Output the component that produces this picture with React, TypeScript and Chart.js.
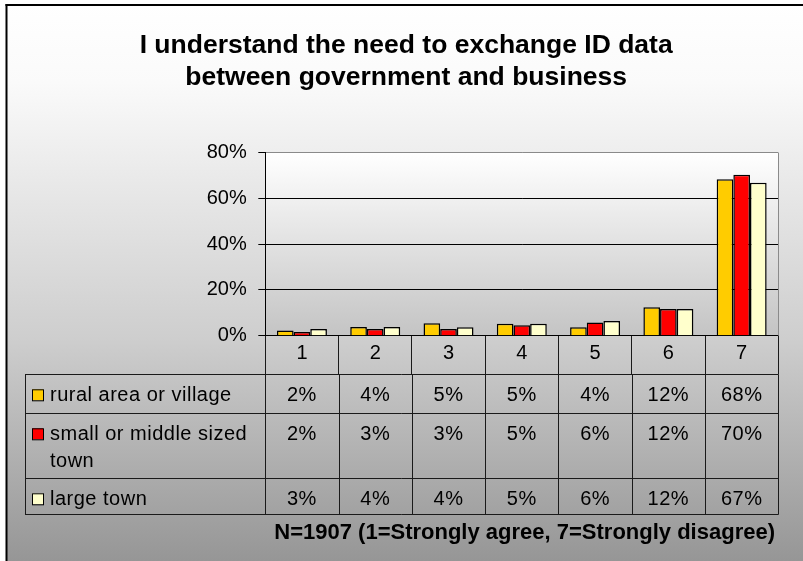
import React, { useEffect, useRef } from "react";
import { Chart, registerables } from "chart.js";

Chart.register(...registerables);

const TITLE = ["I understand the need to exchange ID data", "between government and business"];
const FOOTNOTE = "N=1907 (1=Strongly agree, 7=Strongly disagree)";
const categories = ["1", "2", "3", "4", "5", "6", "7"];
const seriesNames = ["rural area or village", "small or middle sized town", "large town"];
const seriesColors = ["#FFCC00", "#FF0000", "#FFFFCC"];
const rural = [2.3, 3.8, 5.4, 5.2, 3.7, 12.4, 68.4];
const smallTown = [1.6, 2.9, 2.9, 4.6, 5.8, 11.7, 70.4];
const largeTown = [2.9, 3.8, 3.7, 5.2, 6.4, 11.7, 66.9];
const yTicks = [0, 20, 40, 60, 80];

const FONT = "'Liberation Sans', Arial, Helvetica, sans-serif";

const backgroundPlugin = {
  id: "bgPlugin",
  beforeDraw(chart: any) {
    const { ctx, width, height, chartArea } = chart;
    ctx.save();
    ctx.fillStyle = "#ffffff";
    ctx.fillRect(0, 0, width, height);
    const g = ctx.createLinearGradient(0, 4, 0, height);
    g.addColorStop(0, "#ffffff");
    g.addColorStop(0.14, "#fafafa");
    g.addColorStop(0.6, "#cecece");
    g.addColorStop(1, "#969696");
    ctx.fillStyle = g;
    ctx.fillRect(6, 4, width - 6, height - 4);
    ctx.fillStyle = "#000";
    ctx.fillRect(5.5, 4, 2, height - 4);
    ctx.fillRect(5.5, 4, width - 5.5, 2);
    const pg = ctx.createLinearGradient(0, chartArea.top, 0, chartArea.bottom);
    pg.addColorStop(0, "#ffffff");
    pg.addColorStop(1, "#c4c4c4");
    ctx.fillStyle = pg;
    ctx.fillRect(chartArea.left, chartArea.top, chartArea.right - chartArea.left, chartArea.bottom - chartArea.top);
    ctx.restore();
  },
  afterDatasetsDraw(chart: any) {
    const { ctx, chartArea } = chart;
    ctx.save();
    ctx.strokeStyle = "#8a8a8a";
    ctx.lineWidth = 1;
    const xr = Math.round(chartArea.right) + 0.5;
    ctx.beginPath();
    ctx.moveTo(xr, chartArea.top);
    ctx.lineTo(xr, chartArea.bottom);
    ctx.stroke();
    ctx.restore();
  },
};

const tablePlugin = {
  id: "tablePlugin",
  afterDraw(chart: any) {
    const { ctx, chartArea } = chart;
    const xs = chart.scales.x;
    const n = categories.length;
    const colW = (xs.right - xs.left) / n;
    const top = chartArea.bottom + 38.6;
    const rowH = [39, 65, 35.7];
    const tableLeft = 25;
    const series = [rural, smallTown, largeTown];
    const al = (v: number) => Math.round(v) + 0.5;

    ctx.save();
    ctx.strokeStyle = "#1a1a1a";
    ctx.lineWidth = 1;
    let y = top;
    const rowTops: number[] = [];
    for (let r = 0; r <= rowH.length; r++) {
      ctx.beginPath();
      ctx.moveTo(tableLeft, al(y));
      ctx.lineTo(al(xs.right), al(y));
      ctx.stroke();
      if (r < rowH.length) {
        rowTops.push(y);
        y += rowH[r];
      }
    }
    const bottom = y;
    ctx.beginPath();
    ctx.moveTo(al(tableLeft), al(top));
    ctx.lineTo(al(tableLeft), al(bottom));
    ctx.stroke();
    for (let k = 0; k <= n; k++) {
      const xx = al(xs.left + k * colW);
      ctx.beginPath();
      ctx.moveTo(xx, al(top));
      ctx.lineTo(xx, al(bottom));
      ctx.stroke();
    }

    ctx.font = `20px ${FONT}`;
    try {
      (ctx as any).letterSpacing = "0.5px";
    } catch (e) {}
    ctx.fillStyle = "#000";
    ctx.textBaseline = "middle";
    const labelX = 50;
    const maxW = chartArea.left - labelX - 4;
    for (let s = 0; s < series.length; s++) {
      const cy = rowTops[s] + 21;
      ctx.fillStyle = seriesColors[s];
      ctx.fillRect(32, cy - 6, 11, 11);
      ctx.strokeStyle = "#000";
      ctx.strokeRect(32.5, cy - 5.5, 11, 11);
      ctx.fillStyle = "#000";
      ctx.textAlign = "left";
      const words = seriesNames[s].split(" ");
      const lines: string[] = [];
      let cur = "";
      for (const w of words) {
        const test = cur ? cur + " " + w : w;
        if (ctx.measureText(test).width > maxW && cur) {
          lines.push(cur);
          cur = w;
        } else cur = test;
      }
      if (cur) lines.push(cur);
      lines.forEach((ln, i) => ctx.fillText(ln, labelX, cy + i * 27));
      ctx.textAlign = "center";
      series[s].forEach((v, i) => {
        ctx.fillText(Math.round(v) + "%", xs.getPixelForValue(i), cy);
      });
    }

    ctx.font = `bold 22px ${FONT}`;
    try {
      (ctx as any).letterSpacing = "0px";
    } catch (e) {}
    ctx.textAlign = "right";
    ctx.fillText(FOOTNOTE, 775, 533);
    ctx.restore();
  },
};

export default function App() {
  const ref = useRef<HTMLCanvasElement | null>(null);
  useEffect(() => {
    if (!ref.current) return;
    const datasets = [rural, smallTown, largeTown].map((d, i) => ({
      label: seriesNames[i],
      data: d,
      backgroundColor: seriesColors[i],
      borderColor: "#000",
      borderWidth: 1.5,
      categoryPercentage: 0.682,
      barPercentage: 1,
    }));
    const chart = new Chart(ref.current, {
      type: "bar",
      data: { labels: categories, datasets },
      plugins: [backgroundPlugin, tablePlugin],
      options: {
        animation: false,
        responsive: false,
        devicePixelRatio: 1,
        layout: { padding: { left: 34, right: 24.7, top: 0, bottom: 186.7 } },
        plugins: {
          legend: { display: false },
          tooltip: { enabled: false },
          title: {
            display: true,
            text: TITLE,
            color: "#000",
            font: { family: FONT, size: 26.5, weight: "bold", lineHeight: 32 / 26.5 },
            padding: { top: 30, bottom: 58.7 },
          },
        },
        scales: {
          x: {
            offset: true,
            afterFit: (s: any) => {
              s.height = 38.6;
            },
            grid: {
              offset: true,
              drawOnChartArea: false,
              drawTicks: true,
              tickLength: 38.6,
              tickColor: "#1a1a1a",
              color: "#1a1a1a",
            },
            border: { display: true, color: "#000", width: 1 },
            ticks: {
              color: "#000",
              font: { family: FONT, size: 20 },
              padding: -32.6,
              maxRotation: 0,
            },
          },
          y: {
            min: 0,
            max: 80,
            afterFit: (s: any) => {
              s.width = 231.3;
            },
            afterBuildTicks: (s: any) => {
              s.ticks = yTicks.map((v) => ({ value: v }));
            },
            ticks: {
              color: "#000",
              font: { family: FONT, size: 20 },
              padding: 11.6,
              callback: (v: any) => `${v}%`,
            },
            grid: {
              color: (c: any) => (c.tick && c.tick.value === 80 ? "#8a8a8a" : "#000"),
              tickColor: "#000",
              tickLength: 7,
              drawTicks: true,
            },
            border: { display: true, color: "#000", width: 1 },
          },
        },
      },
    });
    return () => chart.destroy();
  }, []);
  return (
    <div style={{ position: "fixed", left: 0, top: 0, width: 803, height: 561 }}>
      <canvas ref={ref} width={803} height={561} style={{ display: "block" }} />
    </div>
  );
}
